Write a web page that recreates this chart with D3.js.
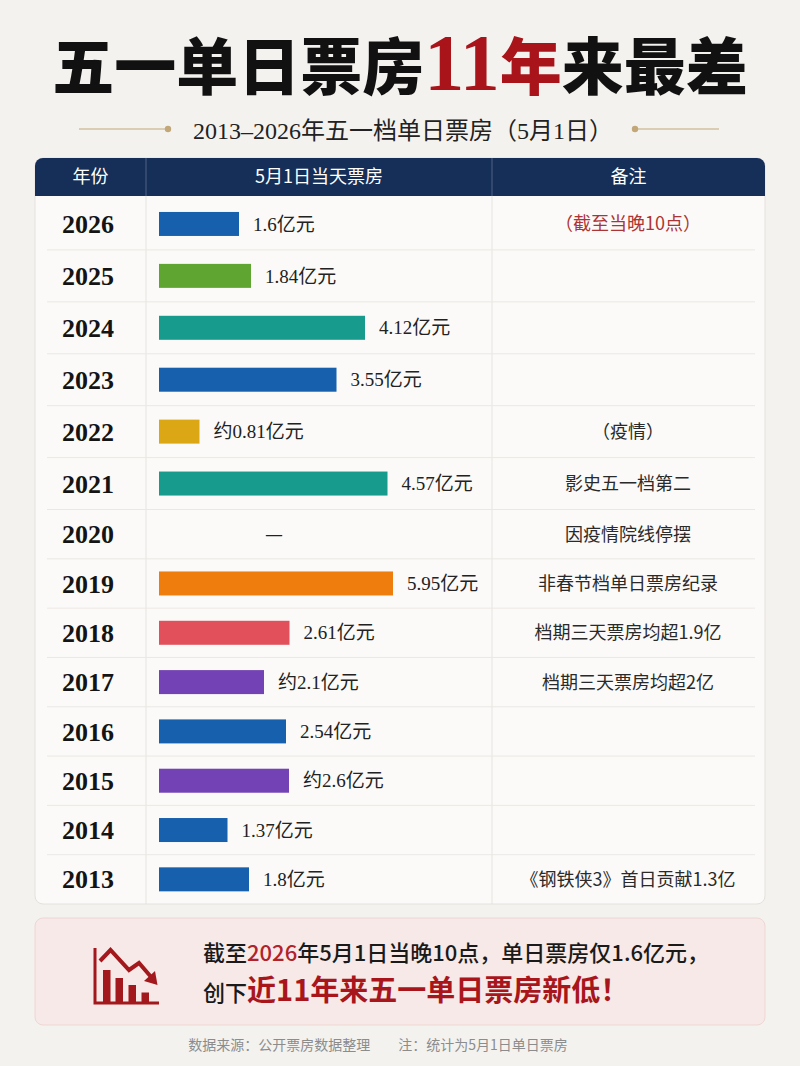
<!DOCTYPE html>
<html lang="zh">
<head>
  <meta charset="UTF-8" />
  <title>五一单日票房11年来最差</title>
  <script src="https://d3js.org/d3.v7.min.js"></script>
  <style>
    body {
      margin: 0;
      background: #f4f2ef;
    }
    svg {
      display: block;
      font-family: "Noto Sans CJK SC", sans-serif;
    }
  </style>
</head>
<body>
  <svg id="chart" width="800" height="1066"></svg>
  <script>
    // data, newest year first
    const years = ["2026", "2025", "2024", "2023", "2022", "2021", "2020", "2019", "2018", "2017", "2016", "2015", "2014", "2013"];
    const boxOffice = [1.6, 1.84, 4.12, 3.55, 0.81, 4.57, null, 5.95, 2.61, 2.1, 2.54, 2.6, 1.37, 1.8];
    const valueLabels = ["1.6亿元", "1.84亿元", "4.12亿元", "3.55亿元", "约0.81亿元", "4.57亿元", "—", "5.95亿元", "2.61亿元", "约2.1亿元", "2.54亿元", "约2.6亿元", "1.37亿元", "1.8亿元"];
    const barColors = ["#1660ad", "#5ea531", "#169b8c", "#1660ad", "#dca714", "#169b8c", "#cccccc", "#ee7d0e", "#e1505b", "#7342b4", "#1660ad", "#7342b4", "#1660ad", "#1660ad"];
    const notes = ["（截至当晚10点）", "", "", "", "（疫情）", "影史五一档第二", "因疫情院线停摆", "非春节档单日票房纪录", "档期三天票房均超1.9亿", "档期三天票房均超2亿", "", "", "", "《钢铁侠3》首日贡献1.3亿"];
    const headers = ["年份", "5月1日当天票房", "备注"];

    const svg = d3.select("#chart");

    const tableLeft = 35, tableRight = 765;
    const colEdges = [35, 146, 492, 765];
    const headerTop = 158, headerBottom = 196;

    // row boundaries: upper rows are a bit taller than the lower ones
    const rowEdge = d3.scaleLinear().domain([0, 6, 14]).range([198, 509.5, 904]);

    // bars: ~50px per 亿元, the record year is clamped to the column
    const x = d3.scaleLinear().domain([0, 4.68]).range([159, 393]).clamp(true);

    // ---------- title ----------
    const title = svg.append("text")
      .attr("x", 400)
      .attr("y", 90)
      .attr("text-anchor", "middle")
      .attr("font-weight", 900)
      .attr("font-size", 62)
      .attr("fill", "#111");
    title.append("tspan").text("五一单日票房");
    title.append("tspan")
      .attr("fill", "#a8141a")
      .attr("font-family", "'Liberation Serif', serif")
      .attr("font-weight", 700)
      .attr("font-size", 80)
      .text("11");
    title.append("tspan").attr("fill", "#a8141a").text("年");
    title.append("tspan").text("来最差");

    // subtitle with ornament lines
    svg.append("text")
      .attr("x", 403)
      .attr("y", 139)
      .attr("text-anchor", "middle")
      .attr("font-family", "'Liberation Serif', 'Noto Sans CJK SC', serif")
      .attr("font-size", 24)
      .attr("fill", "#222")
      .text("2013–2026年五一档单日票房（5月1日）");

    const ornament = [[79, 168], [635, 719]];
    ornament.forEach(([a, b], i) => {
      svg.append("line")
        .attr("x1", a).attr("x2", b)
        .attr("y1", 129).attr("y2", 129)
        .attr("stroke", "#c2a878")
        .attr("stroke-width", 1.2);
      svg.append("circle")
        .attr("cx", i === 0 ? b : a)
        .attr("cy", 129)
        .attr("r", 3.2)
        .attr("fill", "#c2a878");
    });

    // ---------- table ----------
    svg.append("rect")
      .attr("x", tableLeft)
      .attr("y", headerTop)
      .attr("width", tableRight - tableLeft)
      .attr("height", rowEdge(14) - headerTop)
      .attr("rx", 8)
      .attr("fill", "#fbfaf8")
      .attr("stroke", "#e4e1dc");

    svg.append("rect")
      .attr("x", tableLeft)
      .attr("y", headerTop)
      .attr("width", tableRight - tableLeft)
      .attr("height", headerBottom - headerTop)
      .attr("rx", 8)
      .attr("fill", "#152f58");
    svg.append("rect")
      .attr("x", tableLeft)
      .attr("y", headerTop + 12)
      .attr("width", tableRight - tableLeft)
      .attr("height", headerBottom - headerTop - 12)
      .attr("fill", "#152f58");

    svg.selectAll("text.header")
      .data(headers)
      .join("text")
      .attr("class", "header")
      .attr("x", (d, i) => (colEdges[i] + colEdges[i + 1]) / 2)
      .attr("y", (headerTop + headerBottom) / 2)
      .attr("dy", "0.36em")
      .attr("text-anchor", "middle")
      .attr("font-size", 18)
      .attr("font-weight", 400)
      .attr("fill", "#ffffff")
      .text(d => d);

    // column dividers
    [146, 492].forEach(cx => {
      svg.append("line")
        .attr("x1", cx).attr("x2", cx)
        .attr("y1", headerTop).attr("y2", headerBottom)
        .attr("stroke", "#ffffff").attr("stroke-opacity", 0.25);
      svg.append("line")
        .attr("x1", cx).attr("x2", cx)
        .attr("y1", headerBottom).attr("y2", rowEdge(14))
        .attr("stroke", "#e6e3de");
    });

    // row dividers
    svg.selectAll("line.rowline")
      .data(d3.range(1, years.length))
      .join("line")
      .attr("class", "rowline")
      .attr("x1", tableLeft + 12)
      .attr("x2", tableRight - 10)
      .attr("y1", i => rowEdge(i))
      .attr("y2", i => rowEdge(i))
      .attr("stroke", "#ebe8e4");

    const rows = svg.selectAll("g.row")
      .data(years.map((y, i) => ({ year: y, value: boxOffice[i], label: valueLabels[i], color: barColors[i], note: notes[i], i })))
      .join("g")
      .attr("class", "row")
      .attr("transform", d => `translate(0,${(rowEdge(d.i) + rowEdge(d.i + 1)) / 2})`);

    rows.append("text")
      .attr("x", 88)
      .attr("dy", "0.35em")
      .attr("text-anchor", "middle")
      .attr("font-family", "'Liberation Serif', serif")
      .attr("font-weight", 700)
      .attr("font-size", 26)
      .attr("fill", "#141414")
      .text(d => d.year);

    rows.filter(d => d.value !== null)
      .append("rect")
      .attr("x", x(0))
      .attr("y", -12)
      .attr("width", d => x(d.value) - x(0))
      .attr("height", 24)
      .attr("fill", d => d.color);

    rows.append("text")
      .attr("x", d => d.value !== null ? x(d.value) + 14 : 274)
      .attr("dy", "0.35em")
      .attr("text-anchor", d => d.value !== null ? "start" : "middle")
      .attr("font-family", "'Liberation Serif', 'Noto Sans CJK SC', serif")
      .attr("font-size", d => d.value !== null ? 19 : 16)
      .attr("font-weight", d => d.value !== null ? 400 : 700)
      .attr("fill", "#222")
      .text(d => d.label);

    rows.append("text")
      .attr("x", 628)
      .attr("dy", "0.36em")
      .attr("text-anchor", "middle")
      .attr("font-size", 18)
      .attr("fill", d => d.i === 0 ? "#ad3434" : "#2a2a2a")
      .text(d => d.note);

    // ---------- conclusion box ----------
    svg.append("rect")
      .attr("x", 35).attr("y", 918)
      .attr("width", 730).attr("height", 107)
      .attr("rx", 8)
      .attr("fill", "#f7e9e7")
      .attr("stroke", "#eed6d3");

    const icon = svg.append("g").attr("fill", "#a3181c").attr("stroke", "#a3181c");
    icon.append("path")
      .attr("d", "M95,948 V1003 H159")
      .attr("fill", "none")
      .attr("stroke-width", 3);
    [[103, 970], [115.5, 978], [128.5, 985], [141.5, 992.5]].forEach(([bx, by]) => {
      icon.append("rect")
        .attr("x", bx).attr("y", by)
        .attr("width", 7.5).attr("height", 1003 - by)
        .attr("stroke", "none");
    });
    icon.append("polyline")
      .attr("points", "100,961 110.5,950 129,970 139,963 152,978")
      .attr("fill", "none")
      .attr("stroke-width", 4);
    icon.append("path")
      .attr("d", "M157.5,985 L144,981 L155,971 Z")
      .attr("stroke", "none");

    const line1 = svg.append("text")
      .attr("x", 203).attr("y", 961)
      .attr("font-size", 22)
      .attr("font-weight", 500)
      .attr("fill", "#1a1a1a");
    line1.append("tspan").text("截至");
    line1.append("tspan").attr("fill", "#b0232a").text("2026");
    line1.append("tspan").text("年5月1日当晚10点，单日票房仅1.6亿元，");

    const line2 = svg.append("text")
      .attr("x", 203).attr("y", 1001)
      .attr("fill", "#1a1a1a");
    line2.append("tspan").attr("font-size", 22).attr("font-weight", 500).text("创下");
    line2.append("tspan").attr("font-size", 29).attr("font-weight", 700).attr("fill", "#a8161c").text("近11年来五一单日票房新低！");

    // footer
    svg.append("text")
      .attr("x", 378).attr("y", 1050)
      .attr("text-anchor", "middle")
      .attr("font-size", 14)
      .attr("fill", "#8c8c8c")
      .attr("xml:space", "preserve")
      .text("数据来源：公开票房数据整理　　注：统计为5月1日单日票房");
  </script>
</body>
</html>
